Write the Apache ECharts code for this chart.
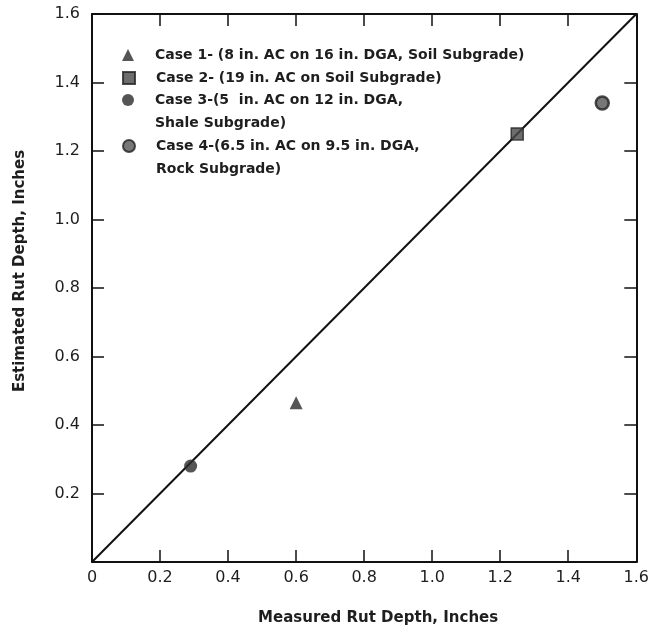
<!DOCTYPE html>
<html lang="en">
<head>
    <meta charset="utf-8">
    <title>Estimated vs Measured Rut Depth</title>
    <script src="https://cdn.jsdelivr.net/npm/echarts@6/dist/echarts.min.js"></script>
    <style>
        html, body { margin: 0; padding: 0; background: #fff; }
        #main { width: 652px; height: 636px; }
    </style>
</head>
<body>
<div id="main"></div>
<script>
    // data
    var case1 = [[0.60, 0.465]];
    var case2 = [[1.25, 1.25]];
    var case3 = [[0.29, 0.28]];
    var case4 = [[1.50, 1.34]];
    var equalityLine = [[0, 0], [1.6, 1.6]];

    var xTickLabels = ['0', '0.2', '0.4', '0.6', '0.8', '1.0', '1.2', '1.4', '1.6'];
    var yTickLabels = ['', '0.2', '0.4', '0.6', '0.8', '1.0', '1.2', '1.4', '1.6'];

    var names = [
        'Case 1- (8 in. AC on 16 in. DGA, Soil Subgrade)',
        'Case 2- (19 in. AC on Soil Subgrade)',
        'Case 3-(5  in. AC on 12 in. DGA,\nShale Subgrade)',
        'Case 4-(6.5 in. AC on 9.5 in. DGA,\nRock Subgrade)'
    ];

    var font = 'DejaVu Sans';
    var ink = '#1e1e1e';

    // one legend per entry; two-line names get an empty first line
    // so the icon sits on the first line of text
    function legendAt(name, iconY, icon) {
        var twoLines = name.indexOf('\n') >= 0;
        return {
            data: [{ name: name, icon: icon }],
            orient: 'vertical',
            left: 122,
            top: iconY - (twoLines ? 34.5 : 11.5) + 1,
            padding: 0,
            itemWidth: 12,
            itemHeight: 12,
            selectedMode: false,
            formatter: function (n) { return n.indexOf('\n') >= 0 ? '\n' + n : n; },
            textStyle: {
                fontFamily: font,
                fontSize: 14,
                fontWeight: 'bold',
                color: ink,
                lineHeight: 23,
                padding: [0, 0, 0, 16]
            }
        };
    }

    function sideAxis(pos) {
        return {
            type: 'value', min: 0, max: 1.6, interval: 0.2, position: pos,
            axisLine: { show: true, onZero: false, lineStyle: { color: '#111', width: 2 } },
            axisTick: { inside: true, length: 12, lineStyle: { color: '#111', width: 1.5 } },
            axisLabel: { show: false },
            splitLine: { show: false }
        };
    }

    var myChart = echarts.init(document.getElementById('main'));

    var option = {
        animation: false,
        backgroundColor: '#fff',
        grid: { left: 92, right: 13, top: 14, bottom: 74 },
        legend: [
            legendAt(names[0], 54, 'triangle'),
            legendAt(names[1], 77, 'rect'),
            legendAt(names[2], 99, 'circle'),
            legendAt(names[3], 145, 'circle')
        ],
        xAxis: [{
            type: 'value', min: 0, max: 1.6, interval: 0.2, position: 'bottom',
            name: 'Measured Rut Depth, Inches',
            nameLocation: 'middle', nameGap: 49,
            nameTextStyle: { fontFamily: font, fontSize: 15, fontWeight: 'bold', color: ink, padding: [0, 0, 0, 28] },
            axisLine: { onZero: false, lineStyle: { color: '#111', width: 2 } },
            axisTick: { inside: true, length: 12, lineStyle: { color: '#111', width: 1.5 } },
            axisLabel: {
                margin: 8, fontFamily: font, fontSize: 16, color: ink,
                formatter: function (v) { return xTickLabels[Math.round(v / 0.2)]; }
            },
            splitLine: { show: false }
        }, sideAxis('top')],
        yAxis: [{
            type: 'value', min: 0, max: 1.6, interval: 0.2, position: 'left',
            name: 'Estimated Rut Depth, Inches',
            nameLocation: 'middle', nameGap: 64, nameRotate: 90,
            nameTextStyle: { fontFamily: font, fontSize: 15, fontWeight: 'bold', color: ink, padding: [0, 0, 0, 34] },
            axisLine: { show: true, onZero: false, lineStyle: { color: '#111', width: 2 } },
            axisTick: { inside: true, length: 12, lineStyle: { color: '#111', width: 1.5 } },
            axisLabel: {
                margin: 12, fontFamily: font, fontSize: 16, color: ink,
                formatter: function (v) { return yTickLabels[Math.round(v / 0.2)]; }
            },
            splitLine: { show: false }
        }, sideAxis('right')],
        series: [{
            name: 'line of equality',
            type: 'line',
            data: equalityLine,
            showSymbol: false,
            symbol: 'none',
            lineStyle: { color: '#111', width: 2 },
            z: 1
        }, {
            name: names[0], type: 'scatter', data: case1,
            symbol: 'triangle', symbolSize: 13,
            itemStyle: { color: '#2a2a2a' }, z: 3
        }, {
            name: names[1], type: 'scatter', data: case2,
            symbol: 'rect', symbolSize: 12,
            itemStyle: { color: '#484848', borderColor: '#222', borderWidth: 1.5 }, z: 3
        }, {
            name: names[2], type: 'scatter', data: case3,
            symbol: 'circle', symbolSize: 13,
            itemStyle: { color: '#2a2a2a' }, z: 3
        }, {
            name: names[3], type: 'scatter', data: case4,
            symbol: 'circle', symbolSize: 13,
            itemStyle: { color: '#555', borderColor: '#222', borderWidth: 2.5 }, z: 3
        }]
    };

    myChart.setOption(option);
</script>
</body>
</html>
